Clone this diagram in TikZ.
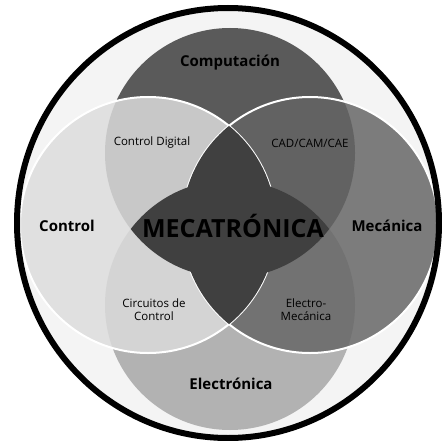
\documentclass[tikz,border=0pt]{standalone}
\usepackage{fontspec}
\setmainfont{Open Sans}
\definecolor{bggray}{HTML}{F4F4F4}
\definecolor{compgray}{HTML}{5A5A5A}
\definecolor{ctrlgray}{HTML}{E0E0E0}
\definecolor{mecgray}{HTML}{7C7C7C}
\definecolor{elecgray}{HTML}{B2B2B2}
\definecolor{digigray}{HTML}{C8C8C8}
\definecolor{cadgray}{HTML}{626262}
\definecolor{emecgray}{HTML}{727272}
\definecolor{circgray}{HTML}{D4D4D4}
\definecolor{stargray}{HTML}{404040}
\tikzset{
  area label/.style={font=\bfseries\fontsize{15}{17}\selectfont, text=black},
  pair label/.style={font=\fontsize{11.5}{13}\selectfont, align=center, text=black},
  core label/.style={font=\bfseries\fontsize{25}{28}\selectfont, text=black},
}
\begin{document}
\begin{tikzpicture}[x=1pt,y=-1pt]
  \useasboundingbox (0,0) rectangle (441,441);
  \def\compcirc{(230,153) circle (125pt)}
  \def\ctrlcirc{(148,225) circle (128pt)}
  \def\meccirc{(310,225) circle (128pt)}
  \def\eleccirc{(230,305) circle (125pt)}
  \begin{scope}
    \clip (228,223) ellipse [x radius=211pt, y radius=215pt];
    \fill[bggray] (0,0) rectangle (441,441);
    \fill[compgray] \compcirc;
    \fill[elecgray] \eleccirc;
    \fill[ctrlgray] \ctrlcirc;
    \fill[mecgray] \meccirc;
    % pairs
    \begin{scope}
      \clip \ctrlcirc;
      \fill[digigray] \compcirc;
      \fill[circgray] \eleccirc;
    \end{scope}
    \begin{scope}
      \clip \meccirc;
      \fill[cadgray] \compcirc;
      \fill[emecgray] \eleccirc;
    \end{scope}
    \draw[white, line width=2pt] \ctrlcirc \meccirc;
    % core
    \begin{scope}
      \clip \ctrlcirc;
      \fill[stargray] \meccirc;
    \end{scope}
    \begin{scope}
      \clip \compcirc;
      \fill[stargray] \eleccirc;
    \end{scope}
  \end{scope}
  \draw[line width=6pt] (228,223) ellipse [x radius=211pt, y radius=215pt];

  \node[area label] (computacion) at (230,63) {Computación};
  \node[area label] (control) at (67,226) {Control};
  \node[area label] (mecanica) at (387,226) {Mecánica};
  \node[area label] (electronica) at (231,384) {Electrónica};
  \node[core label] (mecatronica) at (233,226) {MECATRÓNICA};
  \node[pair label] (digital) at (152,143) {Control Digital};
  \node[pair label] (cadcam) at (310,143) {CAD/CAM/CAE};
  \node[pair label] (circuitos) at (154,310) {Circuitos de\\Control};
  \node[pair label] (electromec) at (306,310) {Electro-\\Mecánica};
\end{tikzpicture}
\end{document}
